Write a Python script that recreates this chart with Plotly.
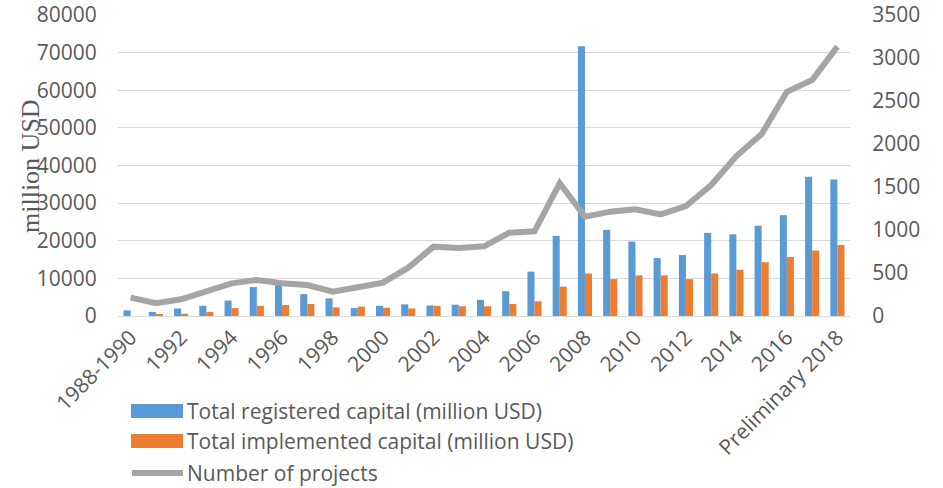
import plotly.graph_objects as go

# Categories (year groups)
categories = ["1988-1990"] + [str(y) for y in range(1991, 2018)] + ["Preliminary 2018"]

# Total registered capital (million USD)
registered = [1500, 1100, 2000, 2700, 4100, 7700, 9400, 5800, 4700, 2100,
              2700, 3100, 2800, 3000, 4300, 6600, 11800, 21300, 71700, 22900,
              19800, 15400, 16200, 22100, 21700, 24000, 26800, 37000, 36300]

# Total implemented capital (million USD)
implemented = [0, 400, 600, 1100, 2100, 2700, 2900, 3200, 2300, 2500,
               2200, 2000, 2700, 2600, 2600, 3200, 3900, 7800, 11300, 9800,
               10800, 10800, 9800, 11300, 12300, 14300, 15700, 17400, 18900]

# Number of projects
projects = [213, 148, 194, 279, 380, 419, 380, 360, 283, 334,
            388, 562, 806, 790, 810, 969, 985, 1543, 1155, 1213,
            1240, 1182, 1279, 1523, 1860, 2116, 2608, 2744, 3132]

tick_labels = categories[0::2]

BLUE = "#5B9BD5"
ORANGE = "#ED7D31"
GRAY = "#A5A5A5"
TEXT = "#595959"
GRID = "#D9D9D9"
FONT = "Open Sans"
FS = 21

W, H = 943, 488
L, R, T, B = 118, 93, 15, 172
PW, PH = W - L - R, H - T - B


def px(x):
    return (x - L) / PW


def py(y):
    return (H - B - y) / PH


fig = go.Figure()
fig.add_trace(go.Bar(x=categories, y=registered, name="Total registered capital (million USD)",
                     marker=dict(color=BLUE, line=dict(width=0)), showlegend=False))
fig.add_trace(go.Bar(x=categories, y=implemented, name="Total implemented capital (million USD)",
                     marker=dict(color=ORANGE, line=dict(width=0)), showlegend=False))
fig.add_trace(go.Scatter(x=categories, y=projects, name="Number of projects", yaxis="y2",
                         mode="lines", line=dict(color=GRAY, width=6), showlegend=False))

# Legend drawn by hand: wide swatches to the left of each label
legend_items = [
    ("Total registered capital (million USD)", "bar", BLUE, 411),
    ("Total implemented capital (million USD)", "bar", ORANGE, 441),
    ("Number of projects", "line", GRAY, 473),
]
shapes = []
annotations = []
for label, kind, color, yc in legend_items:
    if kind == "bar":
        shapes.append(dict(type="rect", xref="paper", yref="paper",
                           x0=px(131), x1=px(183), y0=py(yc - 7), y1=py(yc + 7),
                           fillcolor=color, line=dict(width=0)))
    else:
        shapes.append(dict(type="line", xref="paper", yref="paper",
                           x0=px(132), x1=px(183), y0=py(yc), y1=py(yc),
                           line=dict(color=color, width=6)))
    annotations.append(dict(text=label, xref="paper", yref="paper", x=px(185), y=py(yc),
                            xanchor="left", yanchor="middle", showarrow=False,
                            font=dict(family=FONT, size=FS, color=TEXT)))

annotations.append(dict(text="million USD", xref="paper", yref="paper", x=px(30), y=py(166),
                        xanchor="center", yanchor="middle", textangle=-90, showarrow=False,
                        font=dict(family="Liberation Serif", size=26, color=TEXT)))

fig.update_layout(
    width=W, height=H,
    margin=dict(l=L, r=R, t=T, b=B, pad=0, autoexpand=False),
    paper_bgcolor="white", plot_bgcolor="white",
    barmode="group", bargap=0.44, bargroupgap=0,
    font=dict(family=FONT, size=FS, color=TEXT),
    xaxis=dict(type="category", tickmode="array", tickvals=tick_labels, ticktext=tick_labels,
               tickangle=-45, showgrid=False, showline=True, linecolor=GRID, linewidth=1,
               ticks="", automargin=False, tickfont=dict(family=FONT, size=FS, color=TEXT),
               fixedrange=True),
    yaxis=dict(range=[0, 80000], dtick=10000, tickformat="d", showgrid=True, gridcolor=GRID,
               gridwidth=1, zeroline=False, showline=False, ticks="outside", ticklen=16,
               automargin=False, tickcolor="rgba(0,0,0,0)",
               tickfont=dict(family=FONT, size=FS, color=TEXT)),
    yaxis2=dict(range=[0, 3500], dtick=500, tickformat="d", overlaying="y", side="right",
                showgrid=False, zeroline=False, showline=False, ticks="outside", ticklen=17,
                automargin=False, tickcolor="rgba(0,0,0,0)",
                tickfont=dict(family=FONT, size=FS, color=TEXT)),
    shapes=shapes,
    annotations=annotations,
)

fig.write_html("out.html")
